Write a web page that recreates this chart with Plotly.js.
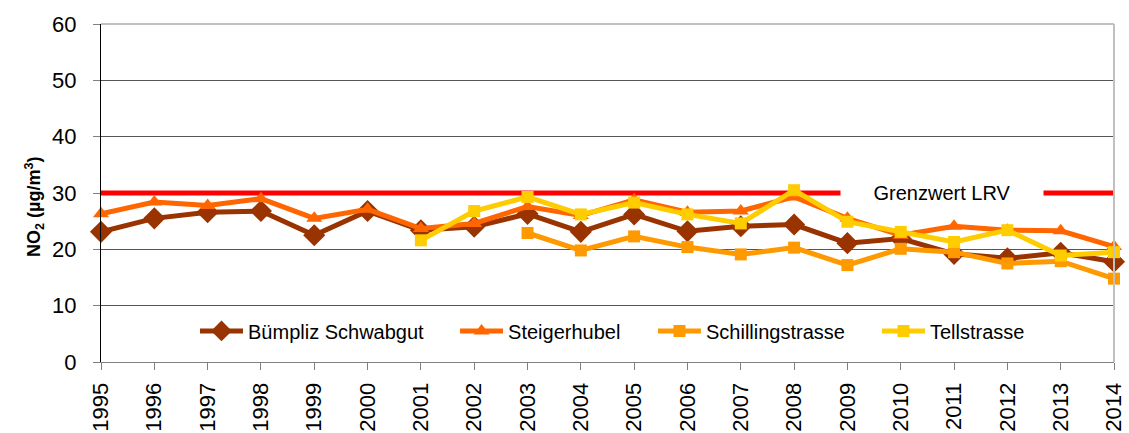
<!DOCTYPE html>
<html>
<head>
<meta charset="utf-8">
<script src="https://cdn.plot.ly/plotly-3.0.1.min.js"></script>
<style>html,body{margin:0;padding:0;background:#fff;}#chart{width:1129px;height:433px;}</style>
</head>
<body>
<div id="chart"></div>
<script>
var years = [1995,1996,1997,1998,1999,2000,2001,2002,2003,2004,2005,2006,2007,2008,2009,2010,2011,2012,2013,2014];
var buempliz = [23.1,25.5,26.6,26.8,22.5,26.8,23.4,24.0,26.3,23.1,26.2,23.2,24.1,24.4,21.1,21.9,19.2,18.4,19.4,17.8];
var steigerhubel = [26.3,28.4,27.8,29.0,25.5,27.1,23.7,24.6,27.6,26.0,28.8,26.6,26.8,29.3,25.5,22.5,24.1,23.4,23.3,20.5];
var schilling = [null,null,null,null,null,null,null,null,22.9,19.8,22.3,20.4,19.1,20.3,17.2,20.1,19.5,17.5,17.9,14.8];
var tell = [null,null,null,null,null,null,21.6,26.8,29.3,26.2,28.3,26.2,24.6,30.5,24.9,23.1,21.3,23.4,18.9,19.5];
var grenzwert = 30;
var names = ['Bümpliz Schwabgut','Steigerhubel','Schillingstrasse','Tellstrasse'];
var yTicks = [0,10,20,30,40,50,60];

var FONT = 'Liberation Sans, Arial, sans-serif';
var limitLine = years.map(function(){return grenzwert;});

var traces = [
  {x: years, y: limitLine, mode:'lines', line:{color:'#FF0000', width:5}, showlegend:false, hoverinfo:'skip', cliponaxis:false},
  {x: years, y: buempliz, name: names[0], mode:'lines+markers', line:{color:'#993300', width:5},
   marker:{symbol:'diamond', size:17, color:'#993300'}, legend:'legend', cliponaxis:false},
  {x: years, y: steigerhubel, name: names[1], mode:'lines+markers', line:{color:'#FF6600', width:5},
   marker:{symbol:'triangle-up', size:14, color:'#FF6600'}, legend:'legend2', cliponaxis:false},
  {x: years, y: schilling, name: names[2], mode:'lines+markers', line:{color:'#FF9900', width:5},
   marker:{symbol:'square', size:12, color:'#FF9900'}, legend:'legend3', cliponaxis:false},
  {x: years, y: tell, name: names[3], mode:'lines+markers', line:{color:'#FFCC00', width:5},
   marker:{symbol:'square', size:12, color:'#FFCC00'}, legend:'legend4', cliponaxis:false}
];

function leg(x){
  return {x:x, y:0.092, xanchor:'left', yanchor:'middle', orientation:'h', bgcolor:'rgba(0,0,0,0)',
          borderwidth:0, font:{family:FONT, size:20, color:'#000'}, itemwidth:43};
}

var layout = {
  width:1129, height:433,
  margin:{l:101, r:15, t:24, b:71, pad:0},
  paper_bgcolor:'#fff', plot_bgcolor:'#fff',
  font:{family:FONT, color:'#000'},
  xaxis:{range:[1995,2014], tickmode:'array', tickvals:years, ticktext:years.map(String), tickangle:-90,
         tickfont:{family:FONT, size:22, color:'#000'}, ticks:'outside', ticklen:7, tickcolor:'#808080',
         showgrid:false, zeroline:false, showline:true, linecolor:'#808080', linewidth:1, ticklabelstandoff:4},
  yaxis:{range:[0,60], tickmode:'array', tickvals:yTicks, ticktext:yTicks.map(String),
         tickfont:{family:FONT, size:22, color:'#000'}, ticks:'outside', ticklen:7, tickcolor:'#808080',
         showgrid:true, gridcolor:'#555', gridwidth:1, zeroline:false, showline:true, linecolor:'#000', linewidth:1,
         ticklabelstandoff:12},
  showlegend:true,
  legend: leg(0.0928),
  legend2: leg(0.3495),
  legend3: leg(0.5449),
  legend4: leg(0.7660),
  shapes:[
    {type:'line', xref:'paper', yref:'paper', x0:0, x1:1, y0:1, y1:1, line:{color:'#C0C0C0', width:2}, layer:'above'},
    {type:'line', xref:'paper', yref:'paper', x0:1, x1:1, y0:0, y1:1, line:{color:'#C0C0C0', width:2}, layer:'above'}
  ],
  annotations:[
    {x:2010.78, y:grenzwert, xref:'x', yref:'y', text:'Grenzwert LRV', showarrow:false, width:200,
     bgcolor:'#fff', font:{family:FONT, size:20, color:'#000'}},
    {x:-0.08, y:0.46, xref:'paper', yref:'paper', text:'<b>NO<sub>2</sub> (µg/m<sup>3</sup>)</b>', textangle:-90,
     showarrow:false, font:{family:FONT, size:18, color:'#000'}}
  ]
};

Plotly.newPlot('chart', traces, layout, {displayModeBar:false, staticPlot:true});
</script>
</body>
</html>
